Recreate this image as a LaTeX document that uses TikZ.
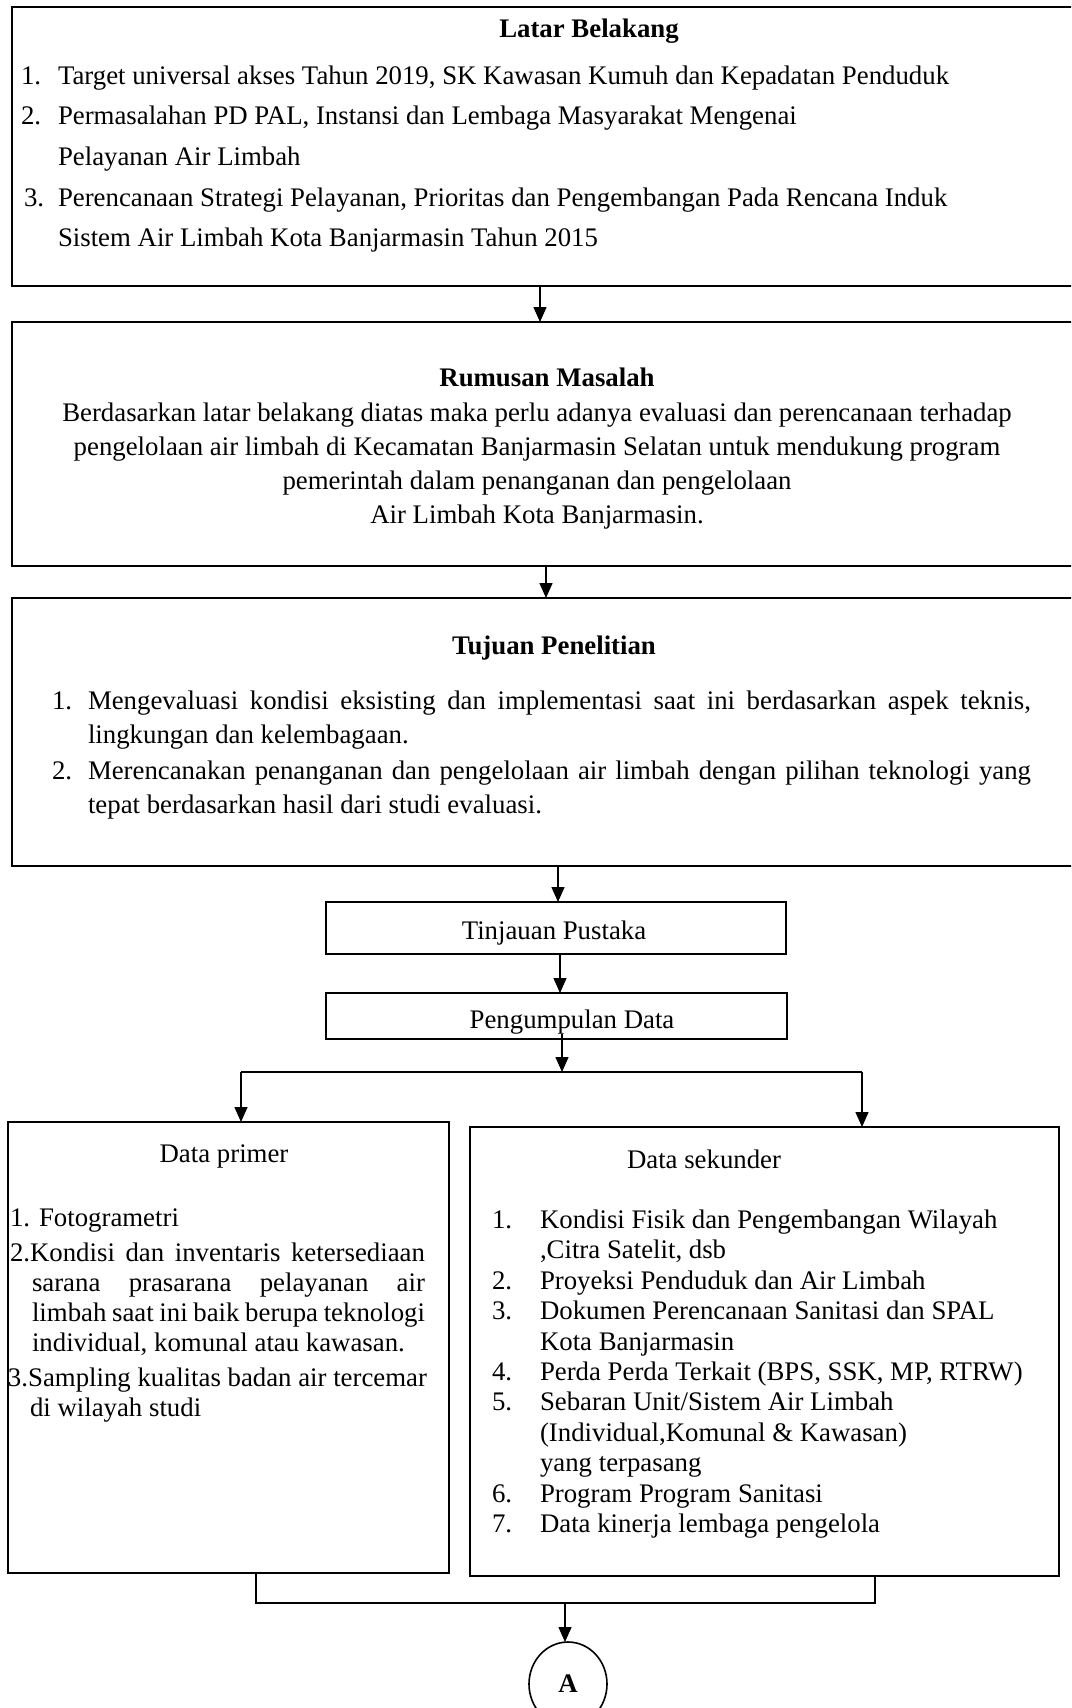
\documentclass[tikz,border=0pt]{standalone}
\usepackage{fontspec}
\setmainfont{Liberation Serif}
\usetikzlibrary{arrows.meta,shapes.geometric}
\newcommand{\fsz}{\fontsize{26.8}{30}\selectfont}
\begin{document}
\begin{tikzpicture}[x=1pt,y=-1pt,
  box/.style={draw,line width=1.8pt,inner sep=0,outer sep=0,anchor=north west},
  txt/.style={inner sep=0,outer sep=0,font=\fsz,anchor=base west},
  ctxt/.style={inner sep=0,outer sep=0,font=\fsz,anchor=base},
  ttl/.style={inner sep=0,outer sep=0,font=\fsz\bfseries,anchor=base},
  arr/.style={line width=1.4pt,-{Triangle[length=15pt,width=13pt]}},
  con/.style={line width=1.6pt}]
\clip (0,0) rectangle (1071,1708);
\fill[white] (0,0) rectangle (1071,1708);

% boxes
\node[box,minimum width=1080pt,minimum height=279pt] (b1) at (12,7) {};
\node[box,minimum width=1080pt,minimum height=244pt] (b2) at (12,322) {};
\node[box,minimum width=1080pt,minimum height=268pt] (b3) at (12,598) {};
\node[box,minimum width=460pt,minimum height=52pt] (tp) at (326,902) {};
\node[box,minimum width=461pt,minimum height=46pt] (pd) at (326,993) {};
\node[box,minimum width=441pt,minimum height=451pt] (prim) at (8,1122) {};
\node[box,minimum width=589pt,minimum height=449pt] (sek) at (470,1127) {};
\node[draw,ellipse,line width=1.6pt,inner sep=0,outer sep=0,minimum width=78pt,minimum height=84pt,font=\fsz\bfseries] (cA) at (568,1684) {A};

% Latar Belakang
\node[ttl] (lbT) at (589,37) {Latar Belakang};
\node[txt] (lb1n) at (21,84) {1.};
\node[txt] (lb1) at (58,84) {Target universal akses Tahun 2019, SK Kawasan Kumuh dan Kepadatan Penduduk};
\node[txt] (lb2n) at (21,124) {2.};
\node[txt] (lb2) at (58,124) {Permasalahan PD PAL, Instansi dan Lembaga Masyarakat Mengenai};
\node[txt] (lb2b) at (58,165) {Pelayanan Air Limbah};
\node[txt] (lb3n) at (24,206) {3.};
\node[txt] (lb3) at (58,206) {Perencanaan Strategi Pelayanan, Prioritas dan Pengembangan Pada Rencana Induk};
\node[txt] (lb3b) at (58,246) {Sistem Air Limbah Kota Banjarmasin Tahun 2015};

% Rumusan Masalah
\node[ttl] (rmT) at (547,386) {Rumusan Masalah};
\node[ctxt] (rm1) at (537,421) {Berdasarkan latar belakang diatas maka perlu adanya evaluasi dan perencanaan terhadap};
\node[ctxt] (rm2) at (537,455) {pengelolaan air limbah di Kecamatan Banjarmasin Selatan untuk mendukung program};
\node[ctxt] (rm3) at (537,489) {pemerintah dalam penanganan dan pengelolaan};
\node[ctxt] (rm4) at (537,523) {Air Limbah Kota Banjarmasin.};

% Tujuan Penelitian
\node[ttl] (tjT) at (554,654) {Tujuan Penelitian};
\node[txt] (tj1n) at (52,709) {1.};
\node[txt] (tj1) at (88,709) {\makebox[943pt][s]{Mengevaluasi kondisi eksisting dan implementasi saat ini berdasarkan aspek teknis,}};
\node[txt] (tj1b) at (88,743) {lingkungan dan kelembagaan.};
\node[txt] (tj2n) at (52,779) {2.};
\node[txt] (tj2) at (88,779) {\makebox[943pt][s]{Merencanakan penanganan dan pengelolaan air limbah dengan pilihan teknologi yang}};
\node[txt] (tj2b) at (88,813) {tepat berdasarkan hasil dari studi evaluasi.};

% small boxes
\node[ctxt] (tpT) at (554,939) {Tinjauan Pustaka};
\node[ctxt] (pdT) at (572,1028) {Pengumpulan Data};

% Data primer
\node[ctxt] (prT) at (224,1162) {Data primer};
\node[txt] (pr1) at (10,1226) {1. Fotogrametri};
\node[txt] (pr2) at (10,1261) {\makebox[415pt][s]{2.Kondisi dan inventaris ketersediaan}};
\node[txt] (pr2b) at (32,1291) {\makebox[393pt][s]{sarana prasarana pelayanan air}};
\node[txt] (pr2c) at (32,1321) {\makebox[393pt][s]{limbah saat ini baik berupa teknologi}};
\node[txt] (pr2d) at (32,1351) {individual, komunal atau kawasan.};
\node[txt] (pr3) at (8,1386) {3.Sampling kualitas badan air tercemar};
\node[txt] (pr3b) at (30,1416) {di wilayah studi};

% Data sekunder
\node[txt] (skT) at (627,1168) {Data sekunder};
\node[txt] (sk1n) at (492,1228) {1.};
\node[txt] (sk1) at (540,1228) {Kondisi Fisik dan Pengembangan Wilayah};
\node[txt] (sk1b) at (540,1258) {,Citra Satelit, dsb};
\node[txt] (sk2n) at (492,1289) {2.};
\node[txt] (sk2) at (540,1289) {Proyeksi Penduduk dan Air Limbah};
\node[txt] (sk3n) at (492,1319) {3.};
\node[txt] (sk3) at (540,1319) {Dokumen Perencanaan Sanitasi dan SPAL};
\node[txt] (sk3b) at (540,1350) {Kota Banjarmasin};
\node[txt] (sk4n) at (492,1380) {4.};
\node[txt] (sk4) at (540,1380) {Perda Perda Terkait (BPS, SSK, MP, RTRW)};
\node[txt] (sk5n) at (492,1410) {5.};
\node[txt] (sk5) at (540,1410) {Sebaran Unit/Sistem Air Limbah};
\node[txt] (sk5b) at (540,1441) {(Individual,Komunal \& Kawasan)};
\node[txt] (sk5c) at (540,1471) {yang terpasang};
\node[txt] (sk6n) at (492,1502) {6.};
\node[txt] (sk6) at (540,1502) {Program Program Sanitasi};
\node[txt] (sk7n) at (492,1532) {7.};
\node[txt] (sk7) at (540,1532) {Data kinerja lembaga pengelola};

% connector coordinates
\coordinate (xa) at (540,0);
\coordinate (xb) at (546,0);
\coordinate (xc) at (558,0);
\coordinate (xd) at (560,0);
\coordinate (p5) at (562,1034);
\coordinate (j5) at (562,1072);
\coordinate (bl) at (241,1072);
\coordinate (br) at (862,1072);
\coordinate (ml) at (256,1603);
\coordinate (mr) at (875,1603);
\coordinate (mm) at (565,1603);

\draw[arr] (xa |- b1.south) -- (xa |- b2.north);
\draw[arr] (xb |- b2.south) -- (xb |- b3.north);
\draw[arr] (xc |- b3.south) -- (xc |- tp.north);
\draw[arr] (xd |- tp.south) -- (xd |- pd.north);
\draw[arr] (p5) -- (j5);
\draw[con] (bl) -- (br);
\draw[arr] (bl) -- (bl |- prim.north);
\draw[arr] (br) -- (br |- sek.north);
\draw[con] (ml |- prim.south) -- (ml) -- (mr) -- (mr |- sek.south);
\draw[arr] (mm) -- (mm |- cA.north);
\end{tikzpicture}
\end{document}
